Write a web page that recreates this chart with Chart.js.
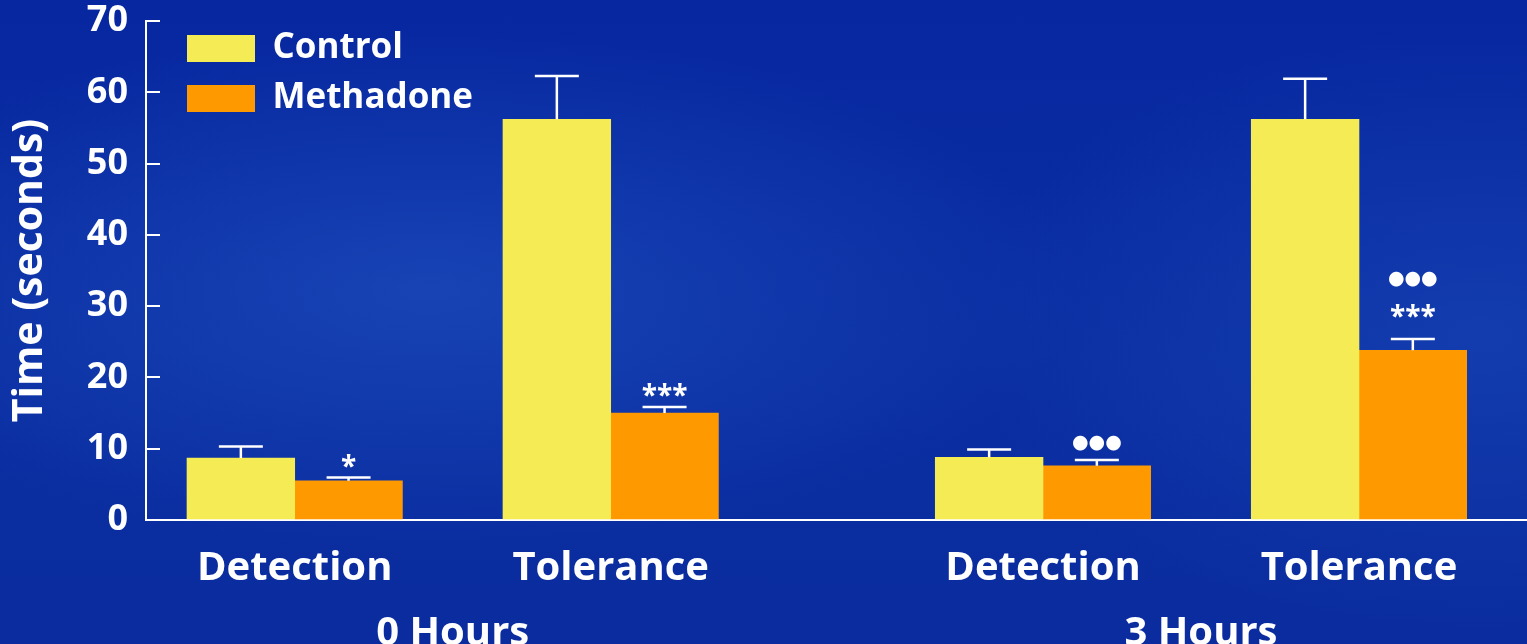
<!DOCTYPE html>
<html>
<head>
<meta charset="utf-8">
<script src="https://cdn.jsdelivr.net/npm/chart.js@4/dist/chart.umd.min.js"></script>
<style>
  html, body { margin: 0; padding: 0; width: 1527px; height: 644px; overflow: hidden; }
  body {
    background:
      radial-gradient(ellipse 650px 260px at 430px 290px, rgba(40, 95, 205, 0.45), rgba(40, 95, 205, 0) 100%),
      radial-gradient(ellipse 520px 300px at 1480px 330px, rgba(40, 95, 205, 0.30), rgba(40, 95, 205, 0) 100%),
      linear-gradient(180deg, #0727a0 0%, #0a2ea2 55%, #0a2c9e 100%);
  }
  canvas { display: block; }
</style>
</head>
<body>
<canvas id="chart" width="1527" height="644"></canvas>
<script>
// ---- data ----
const categories = ['Detection', 'Tolerance', 'Detection', 'Tolerance'];
const groups = ['0 Hours', '3 Hours'];
const control = [8.7, 56.2, 8.8, 56.2];
const controlErr = [1.6, 6.1, 1.1, 5.7];
const methadone = [5.5, 15.0, 7.6, 23.8];
const methadoneErr = [0.45, 0.85, 0.8, 1.6];
// significance marks above each methadone bar, listed bottom-up
const methadoneMarks = [['*'], ['***'], ['●●●'], ['***', '●●●']];
const yTicks = [0, 10, 20, 30, 40, 50, 60, 70];

// ---- layout of category slots along the x axis ----
const slotPos = [0, 1, 2.368, 3.368];
const groupPos = [0.5, 2.868];
const X_MIN = -0.4706;
const X_MAX = 3.8997;

const WHITE = '#ffffff';
const LABEL_FONT = '"Open Sans"';

// error bars and significance marks drawn from each bar and the y scale
const errorBars = {
  id: 'errorBars',
  afterDatasetsDraw(chart) {
    const { ctx } = chart;
    const y = chart.scales.y;
    ctx.save();
    chart.data.datasets.forEach((ds, i) => {
      const meta = chart.getDatasetMeta(i);
      meta.data.forEach((bar, j) => {
        const v = ds.data[j].y;
        const top = y.getPixelForValue(v + ds.errors[j]);
        ctx.strokeStyle = WHITE;
        ctx.lineWidth = 2.5;
        ctx.beginPath();
        ctx.moveTo(bar.x, bar.y);
        ctx.lineTo(bar.x, top);
        ctx.moveTo(bar.x - 22, top);
        ctx.lineTo(bar.x + 22, top);
        ctx.stroke();
        const marks = ds.marks ? ds.marks[j] : null;
        if (!marks) return;
        ctx.fillStyle = WHITE;
        ctx.textAlign = 'center';
        // stacked marks sit a little higher above the cap
        const base = marks.length > 1 ? 28 : 17;
        marks.forEach((m, k) => {
          const cy = top - base - k * 32;
          if (m.indexOf('●') >= 0) {
            ctx.font = '19px "DejaVu Sans"';
            ctx.textBaseline = 'middle';
            ctx.fillText(m, bar.x, cy);
          } else {
            ctx.font = 'bold 28px ' + LABEL_FONT;
            ctx.textBaseline = 'alphabetic';
            ctx.fillText(m, bar.x, cy + 15);
          }
        });
      });
    });
    ctx.restore();
  }
};

// places the legend inside the plot, near the top-left corner
const legendPlacement = {
  id: 'legendPlacement',
  afterLayout(chart) {
    const lg = chart.legend;
    if (!lg) return;
    const w = lg.width, h = lg.height;
    lg.left = chart.chartArea.left + 26;
    lg.top = chart.chartArea.top - 5;
    lg.right = lg.left + w;
    lg.bottom = lg.top + h;
  }
};

const tickFont = { family: LABEL_FONT, weight: 'bold', size: 40, lineHeight: 1 };

new Chart(document.getElementById('chart'), {
  type: 'bar',
  data: {
    datasets: [
      {
        label: 'Control',
        data: slotPos.map((x, i) => ({ x, y: control[i] })),
        errors: controlErr,
        backgroundColor: '#f4eb55',
        borderWidth: 0
      },
      {
        label: 'Methadone',
        data: slotPos.map((x, i) => ({ x, y: methadone[i] })),
        errors: methadoneErr,
        marks: methadoneMarks,
        backgroundColor: '#ff9900',
        borderWidth: 0
      }
    ]
  },
  options: {
    responsive: false,
    animation: false,
    devicePixelRatio: 1,
    barThickness: 107.7,
    layout: { padding: { top: 21, right: 0, bottom: 0, left: 0 } },
    plugins: {
      legend: {
        position: 'chartArea',
        align: 'start',
        fullSize: false,
        labels: {
          boxWidth: 68,
          boxHeight: 27,
          padding: 15,
          color: WHITE,
          font: { family: LABEL_FONT, weight: 'bold', size: 35 }
        }
      },
      tooltip: { enabled: false }
    },
    scales: {
      x: {
        type: 'linear',
        position: 'bottom',
        min: X_MIN,
        max: X_MAX,
        offset: false,
        afterBuildTicks: (s) => { s.ticks = slotPos.map(v => ({ value: v })); },
        afterFit: (s) => { s.height = 80; },
        ticks: {
          callback: (v, i) => categories[i],
          color: WHITE,
          font: tickFont,
          padding: 21,
          autoSkip: false,
          maxRotation: 0
        },
        grid: { display: false },
        border: { display: true, color: WHITE, width: 2 }
      },
      x2: {
        type: 'linear',
        position: 'bottom',
        min: X_MIN,
        max: X_MAX,
        offset: false,
        afterBuildTicks: (s) => { s.ticks = groupPos.map(v => ({ value: v })); },
        afterFit: (s) => { s.height = 44; },
        ticks: {
          callback: (v, i) => groups[i],
          color: WHITE,
          font: tickFont,
          padding: 6,
          autoSkip: false,
          maxRotation: 0
        },
        grid: { display: false },
        border: { display: false }
      },
      y: {
        min: 0,
        max: 70,
        afterBuildTicks: (s) => { s.ticks = yTicks.map(v => ({ value: v })); },
        afterFit: (s) => { s.width = 146; s.paddingTop = 0; s.paddingBottom = 0; },
        ticks: {
          color: WHITE,
          font: { family: LABEL_FONT, weight: 'bold', size: 36, lineHeight: 1 },
          padding: 32
        },
        grid: {
          drawOnChartArea: false,
          drawTicks: true,
          tickLength: -14,
          color: WHITE,
          lineWidth: 2
        },
        border: { display: true, color: WHITE, width: 2 },
        title: {
          display: true,
          text: 'Time (seconds)',
          color: WHITE,
          font: { family: LABEL_FONT, weight: 'bold', size: 41 },
          padding: { top: 6, bottom: 0 }
        }
      }
    }
  },
  plugins: [errorBars, legendPlacement]
});
</script>
</body>
</html>
